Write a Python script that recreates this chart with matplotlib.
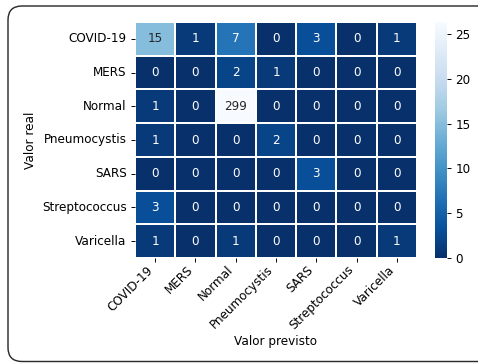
import numpy as np
import matplotlib
matplotlib.use("Agg")
from matplotlib import pyplot as plt
from matplotlib.patches import FancyBboxPatch
import seaborn as sns

# Classes and confusion matrix (rows = real, columns = predicted)
labels = ['COVID-19', 'MERS', 'Normal', 'Pneumocystis', 'SARS', 'Streptococcus', 'Varicella']
cm = np.array([
    [15, 1, 7, 0, 3, 0, 1],
    [0, 0, 2, 1, 0, 0, 0],
    [1, 0, 299, 0, 0, 0, 0],
    [1, 0, 0, 2, 0, 0, 0],
    [0, 0, 0, 0, 3, 0, 0],
    [3, 0, 0, 0, 0, 0, 0],
    [1, 0, 1, 0, 0, 0, 1],
])

W, H = 478, 363
DPI = 86
fig = plt.figure(figsize=(W / DPI, H / DPI), dpi=DPI)

# background axes in pixel units, used for the rounded frame
bg = fig.add_axes([0, 0, 1, 1])
bg.set_xlim(0, W)
bg.set_ylim(0, H)
bg.axis('off')
bg.add_patch(FancyBboxPatch((8, 1.5), 490, 355.5,
                            boxstyle='round,pad=0,rounding_size=14',
                            fill=False, edgecolor='#2b2b2b', linewidth=1.2))

ax = fig.add_axes([135 / W, 1 - 258 / H, 282 / W, 236 / H])
cax = fig.add_axes([435 / W, 1 - 258 / H, 12 / W, 236 / H])

sns.heatmap(cm, annot=True, fmt='d', cmap='Blues_r', robust=True,
            linewidths=1.5, linecolor='white', ax=ax, cbar_ax=cax,
            xticklabels=labels, yticklabels=labels)

ax.set_xlabel('Valor previsto', labelpad=2)
ax.set_ylabel('Valor real')
ax.set_xticklabels(labels, rotation=45, ha='right')
ax.set_yticklabels(labels, rotation=0)
ax.tick_params(axis='x', pad=1)
for sp in cax.spines.values():
    sp.set_visible(False)

fig.savefig('out.png', dpi=DPI)
